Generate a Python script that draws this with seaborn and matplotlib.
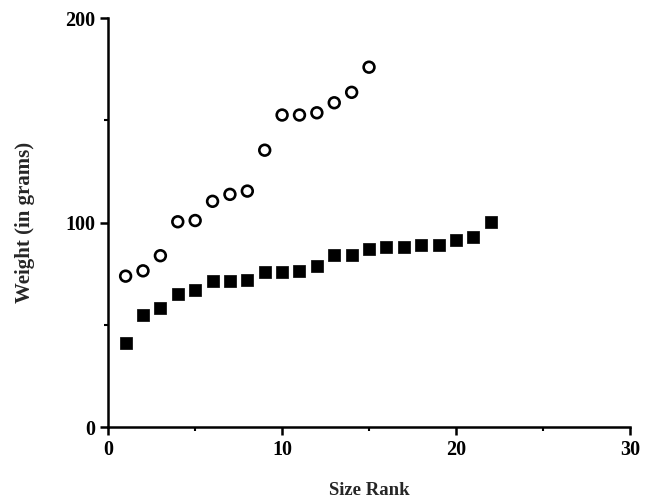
import matplotlib
matplotlib.use("Agg")
import matplotlib.pyplot as plt
import seaborn as sns
import pandas as pd
from matplotlib.ticker import MultipleLocator

# Data
square_rank = list(range(1, 23))
square_weight = [41, 55, 58, 65, 67, 71.4, 71.4, 72, 75.8, 75.8, 76.4, 78.7,
                 83.9, 83.9, 87.3, 87.9, 87.9, 88.8, 88.8, 91.4, 93, 100.5]
circle_rank = list(range(1, 16))
circle_weight = [73.8, 76.4, 83.8, 100.4, 101, 110.4, 113.8, 115.4, 135.4,
                 152.6, 152.6, 153.7, 158.6, 163.7, 176]

x_ticks = [0, 10, 20, 30]
y_ticks = [0, 100, 200]

sns.set_theme(style="ticks")
plt.rcParams['font.family'] = ['Liberation Serif', 'DejaVu Serif']

sq = pd.DataFrame({"rank": square_rank, "weight": square_weight})
ci = pd.DataFrame({"rank": circle_rank, "weight": circle_weight})

fig = plt.figure(figsize=(6.52, 5.03), dpi=100)
ax = fig.add_axes([0.166, 0.151, 0.800, 0.813])

sns.scatterplot(data=sq, x="rank", y="weight", marker="s", s=72, color="black",
                edgecolor="black", linewidth=0.5, ax=ax, zorder=3, clip_on=False)
sns.scatterplot(data=ci, x="rank", y="weight", marker="o", s=60,
                facecolor="none", edgecolor="black", linewidth=1.9, ax=ax,
                zorder=3, clip_on=False)

ax.set_xlim(0, 30)
ax.set_ylim(0, 200)
ax.set_xticks(x_ticks)
ax.set_yticks(y_ticks)
ax.xaxis.set_minor_locator(MultipleLocator(5))
ax.yaxis.set_minor_locator(MultipleLocator(50))
ax.tick_params(axis="both", which="major", direction="out", length=6, width=1.8,
               labelsize=14.5, color="black", labelcolor="black", pad=3)
ax.tick_params(axis="both", which="minor", direction="out", length=3, width=1.5,
               color="black")
for lab in ax.get_xticklabels() + ax.get_yticklabels():
    lab.set_fontweight("bold")

sns.despine(ax=ax)
for sp in ["left", "bottom"]:
    ax.spines[sp].set_linewidth(1.8)
    ax.spines[sp].set_color("black")

ax.set_xlabel("Size Rank", fontsize=13.5, fontweight="bold", labelpad=16)
ax.set_ylabel("Weight (in grams)", fontsize=15, fontweight="bold", labelpad=22)

fig.savefig("out.png", dpi=100, facecolor="white")
